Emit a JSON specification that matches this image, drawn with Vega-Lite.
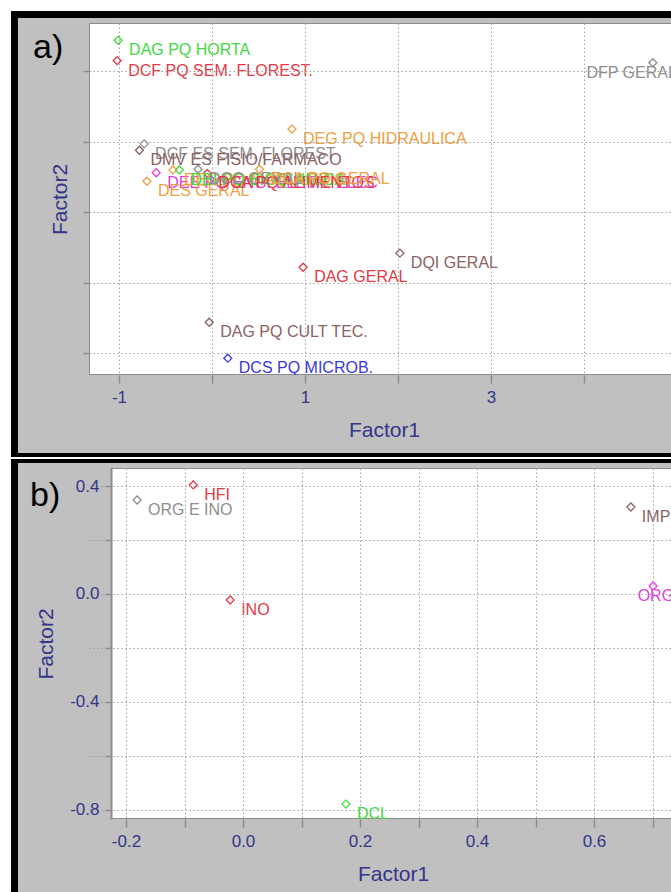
{
  "$schema": "https://vega.github.io/schema/vega-lite/v6.json",
  "padding": {"left": 10, "top": 10, "right": 0, "bottom": 0},
  "background": "white",
  "spacing": 0,
  "config": {
    "view": {"stroke": "#8c8c8c", "strokeWidth": 2, "fill": "white"},
    "font": "Liberation Sans",
    "axis": {
      "zindex": 1,
      "grid": true,
      "domain": false,
      "labelOverlap": false,
      "gridColor": "#a0a0a0",
      "gridDash": [1.5, 2.5],
      "gridWidth": 1,
      "tickColor": "#8c8c8c",
      "tickWidth": 1.5,
      "labelColor": "#35358a",
      "labelFontSize": 17,
      "labelFont": "Liberation Sans",
      "titleColor": "#35358a",
      "titleFontSize": 21,
      "titleFontWeight": "normal",
      "titleFont": "Liberation Sans"
    }
  },
  "datasets": {
    "a": [
      {"f1": -1.01, "f2": 1.94, "rotulo": "DAG PQ HORTA", "grupo": "verde"},
      {"f1": -1.02, "f2": 1.65, "rotulo": "DCF PQ SEM. FLOREST.", "grupo": "vermelho"},
      {"f1": 4.74, "f2": 1.62, "rotulo": "DFP GERAL", "grupo": "cinza"},
      {"f1": 0.86, "f2": 0.68, "rotulo": "DEG PQ HIDRAULICA", "grupo": "laranja"},
      {"f1": -0.73, "f2": 0.47, "rotulo": "DCF ES SEM. FLOREST", "grupo": "cinza"},
      {"f1": -0.78, "f2": 0.38, "rotulo": "DMV ES FISIO/FARMACO", "grupo": "marrom"},
      {"f1": -0.6, "f2": 0.06, "rotulo": "DEE PQ ENG. ELETR. ELEC", "grupo": "magenta"},
      {"f1": -0.7, "f2": -0.06, "rotulo": "DES GERAL", "grupo": "laranja"},
      {"f1": -0.42, "f2": 0.1, "rotulo": "DEG PQ MAQ. AGRIC.", "grupo": "laranja"},
      {"f1": -0.35, "f2": 0.1, "rotulo": "DBI PQ BIOQUIMICA", "grupo": "verde"},
      {"f1": -0.15, "f2": 0.11, "rotulo": "DCC GERAL", "grupo": "cinza"},
      {"f1": -0.05, "f2": 0.05, "rotulo": "DCA PQ ALIMENTOS", "grupo": "vermelho"},
      {"f1": 0.51, "f2": 0.11, "rotulo": "DCA PQ GERAL", "grupo": "laranja"},
      {"f1": 0.98, "f2": -1.28, "rotulo": "DAG GERAL", "grupo": "vermelho"},
      {"f1": 2.02, "f2": -1.08, "rotulo": "DQI GERAL", "grupo": "marrom"},
      {"f1": -0.03, "f2": -2.06, "rotulo": "DAG PQ CULT TEC.", "grupo": "marrom"},
      {"f1": 0.17, "f2": -2.57, "rotulo": "DCS PQ MICROB.", "grupo": "azul"}
    ],
    "b": [
      {"f1": -0.085, "f2": 0.404, "rotulo": "HFI", "grupo": "vermelho"},
      {"f1": -0.181, "f2": 0.348, "rotulo": "ORG E INO", "grupo": "cinza"},
      {"f1": -0.022, "f2": -0.023, "rotulo": "INO", "grupo": "vermelho"},
      {"f1": 0.663, "f2": 0.322, "rotulo": "IMP", "grupo": "marrom"},
      {"f1": 0.701, "f2": 0.029, "rotulo": "ORG", "grupo": "magenta"},
      {"f1": 0.176, "f2": -0.78, "rotulo": "DCL", "grupo": "verde"}
    ]
  },
  "vconcat": [
    {
      "width": 583,
      "height": 352,
      "layer": [
        {
          "data": {"name": "a"},
          "mark": {"type": "point", "shape": "diamond", "size": 64, "filled": false, "strokeWidth": 1.3, "opacity": 1},
          "encoding": {
            "x": {
              "field": "f1", "type": "quantitative",
              "scale": {"domain": [-1.3226, 4.9462], "nice": false, "zero": false},
              "axis": {
                "zindex": 1,
                "grid": true,
                "labelOverlap": false,
                "title": "Factor1",
                "titleX": 295,
                "values": [-1, 0, 1, 2, 3, 4],
                "labelExpr": "round(datum.value) % 2 === 0 ? '' : replace(format(datum.value, 'd'), '−', '-')",
                "tickSize": 8,
                "labelPadding": 6,
                "titlePadding": 14
              }
            },
            "y": {
              "field": "f2", "type": "quantitative",
              "scale": {"domain": [-2.8085, 2.1844], "nice": false, "zero": false},
              "axis": {
                "zindex": 1,
                "grid": true,
                "labelOverlap": false,
                "title": "Factor2",
                "values": [-2, -2.5, -1, -1.5, 0, -0.5, 1, 0.5, 2, 1.5],
                "labelExpr": "round(datum.value * 2) % 2 === 0 ? replace(format(datum.value, 'd'), '−', '-') : ''",
                "tickSize": 6,
                "labelPadding": 5,
                "titlePadding": 8
              }
            },
            "color": {
              "field": "grupo", "type": "nominal",
              "scale": {"domain": ["verde", "vermelho", "cinza", "laranja", "marrom", "azul", "magenta"], "range": ["#3fd93f", "#e33a46", "#8e8e8e", "#f0a040", "#8a6262", "#3838e0", "#e040e0"]},
              "legend": null
            }
          }
        },
        {
          "data": {"name": "a"},
          "transform": [{"filter": "datum.f1 < 4.5"}],
          "mark": {"type": "text", "align": "left", "baseline": "middle", "dx": 11, "dy": 10, "fontSize": 16, "clip": true},
          "encoding": {
            "x": {"field": "f1", "type": "quantitative", "scale": {"domain": [-1.3226, 4.9462], "nice": false, "zero": false}},
            "y": {"field": "f2", "type": "quantitative", "scale": {"domain": [-2.8085, 2.1844], "nice": false, "zero": false}},
            "text": {"field": "rotulo"},
            "color": {"field": "grupo", "type": "nominal", "legend": null}
          }
        },
        {
          "data": {"name": "a"},
          "transform": [{"filter": "datum.f1 >= 4.5"}],
          "mark": {"type": "text", "align": "right", "baseline": "middle", "dx": 24, "dy": 10, "fontSize": 16, "clip": true},
          "encoding": {
            "x": {"field": "f1", "type": "quantitative", "scale": {"domain": [-1.3226, 4.9462], "nice": false, "zero": false}},
            "y": {"field": "f2", "type": "quantitative", "scale": {"domain": [-2.8085, 2.1844], "nice": false, "zero": false}},
            "text": {"field": "rotulo"},
            "color": {"field": "grupo", "type": "nominal", "legend": null}
          }
        },
        {
          "data": {"values": [{}]},
          "mark": {"type": "rect", "color": "black"},
          "encoding": {
            "x": {"datum": -2.1613, "type": "quantitative", "scale": {"domain": [-1.3226, 4.9462], "nice": false, "zero": false}},
            "x2": {"datum": -2.086},
            "y": {"datum": 2.3546, "type": "quantitative", "scale": {"domain": [-2.8085, 2.1844], "nice": false, "zero": false}},
            "y2": {"datum": -3.9716}
          }
        },
        {
          "data": {"values": [{}]},
          "mark": {"type": "rect", "color": "black"},
          "encoding": {
            "x": {"datum": -2.1613, "type": "quantitative", "scale": {"domain": [-1.3226, 4.9462], "nice": false, "zero": false}},
            "x2": {"datum": 4.9462},
            "y": {"datum": 2.3546, "type": "quantitative", "scale": {"domain": [-2.8085, 2.1844], "nice": false, "zero": false}},
            "y2": {"datum": 2.2553}
          }
        },
        {
          "data": {"values": [{}]},
          "mark": {"type": "rect", "color": "black"},
          "encoding": {
            "x": {"datum": -2.1613, "type": "quantitative", "scale": {"domain": [-1.3226, 4.9462], "nice": false, "zero": false}},
            "x2": {"datum": 4.9462},
            "y": {"datum": -3.9149, "type": "quantitative", "scale": {"domain": [-2.8085, 2.1844], "nice": false, "zero": false}},
            "y2": {"datum": -3.9716}
          }
        },
        {
          "data": {"values": [{}]},
          "mark": {"type": "rect", "color": "#c0c0c0"},
          "encoding": {
            "x": {"datum": -2.086, "type": "quantitative", "scale": {"domain": [-1.3226, 4.9462], "nice": false, "zero": false}},
            "x2": {"datum": -1.3226},
            "y": {"datum": 2.2553, "type": "quantitative", "scale": {"domain": [-2.8085, 2.1844], "nice": false, "zero": false}},
            "y2": {"datum": -3.9149}
          }
        },
        {
          "data": {"values": [{}]},
          "mark": {"type": "rect", "color": "#c0c0c0"},
          "encoding": {
            "x": {"datum": -1.3226, "type": "quantitative", "scale": {"domain": [-1.3226, 4.9462], "nice": false, "zero": false}},
            "x2": {"datum": 4.9462},
            "y": {"datum": 2.2553, "type": "quantitative", "scale": {"domain": [-2.8085, 2.1844], "nice": false, "zero": false}},
            "y2": {"datum": 2.1844}
          }
        },
        {
          "data": {"values": [{}]},
          "mark": {"type": "rect", "color": "#c0c0c0"},
          "encoding": {
            "x": {"datum": -1.3226, "type": "quantitative", "scale": {"domain": [-1.3226, 4.9462], "nice": false, "zero": false}},
            "x2": {"datum": 4.9462},
            "y": {"datum": -2.8085, "type": "quantitative", "scale": {"domain": [-2.8085, 2.1844], "nice": false, "zero": false}},
            "y2": {"datum": -3.9149}
          }
        },
        {
          "data": {"values": [{}]},
          "mark": {"type": "text", "text": "a)", "align": "left", "baseline": "middle", "fontSize": 34, "color": "black", "font": "Liberation Sans"},
          "encoding": {
            "x": {"datum": -1.925, "type": "quantitative", "scale": {"domain": [-1.3226, 4.9462], "nice": false, "zero": false}},
            "y": {"datum": 1.83, "type": "quantitative", "scale": {"domain": [-2.8085, 2.1844], "nice": false, "zero": false}}
          }
        }
      ]
    },
    {
      "width": 583,
      "height": 351,
      "layer": [
        {
          "data": {"values": [{}]},
          "mark": {"type": "rect", "color": "black"},
          "encoding": {
            "x": {"datum": -0.39658, "type": "quantitative", "scale": {"domain": [-0.26325, 0.73333], "nice": false, "zero": false}},
            "x2": {"datum": -0.38462},
            "y": {"datum": 0.50015, "type": "quantitative", "scale": {"domain": [-0.8352, 0.4668], "nice": false, "zero": false}},
            "y2": {"datum": -1.11706}
          }
        },
        {
          "data": {"values": [{}]},
          "mark": {"type": "rect", "color": "black"},
          "encoding": {
            "x": {"datum": -0.39658, "type": "quantitative", "scale": {"domain": [-0.26325, 0.73333], "nice": false, "zero": false}},
            "x2": {"datum": 0.73333},
            "y": {"datum": 0.50015, "type": "quantitative", "scale": {"domain": [-0.8352, 0.4668], "nice": false, "zero": false}},
            "y2": {"datum": 0.48531}
          }
        },
        {
          "data": {"values": [{}]},
          "mark": {"type": "rect", "color": "#c0c0c0"},
          "encoding": {
            "x": {"datum": -0.38462, "type": "quantitative", "scale": {"domain": [-0.26325, 0.73333], "nice": false, "zero": false}},
            "x2": {"datum": -0.22564},
            "y": {"datum": 0.48531, "type": "quantitative", "scale": {"domain": [-0.8352, 0.4668], "nice": false, "zero": false}},
            "y2": {"datum": -1.11706}
          }
        },
        {
          "data": {"values": [{}]},
          "mark": {"type": "rect", "color": "#c0c0c0"},
          "encoding": {
            "x": {"datum": -0.22564, "type": "quantitative", "scale": {"domain": [-0.26325, 0.73333], "nice": false, "zero": false}},
            "x2": {"datum": 0.73333},
            "y": {"datum": 0.48531, "type": "quantitative", "scale": {"domain": [-0.8352, 0.4668], "nice": false, "zero": false}},
            "y2": {"datum": 0.4668}
          }
        },
        {
          "data": {"values": [{}]},
          "mark": {"type": "rect", "color": "#c0c0c0"},
          "encoding": {
            "x": {"datum": -0.22564, "type": "quantitative", "scale": {"domain": [-0.26325, 0.73333], "nice": false, "zero": false}},
            "x2": {"datum": 0.73333},
            "y": {"datum": -0.8352, "type": "quantitative", "scale": {"domain": [-0.8352, 0.4668], "nice": false, "zero": false}},
            "y2": {"datum": -1.11706}
          }
        },
        {
          "data": {"values": [{}]},
          "mark": {"type": "text", "text": "b)", "align": "left", "baseline": "middle", "fontSize": 34, "color": "black", "font": "Liberation Sans"},
          "encoding": {
            "x": {"datum": -0.3641, "type": "quantitative", "scale": {"domain": [-0.26325, 0.73333], "nice": false, "zero": false}},
            "y": {"datum": 0.3629, "type": "quantitative", "scale": {"domain": [-0.8352, 0.4668], "nice": false, "zero": false}}
          }
        },
        {
          "data": {"name": "b"},
          "mark": {"type": "point", "shape": "diamond", "size": 64, "filled": false, "strokeWidth": 1.3, "opacity": 1},
          "encoding": {
            "x": {
              "field": "f1", "type": "quantitative",
              "scale": {"domain": [-0.26325, 0.73333], "nice": false, "zero": false},
              "axis": {
                "zindex": 1,
                "labelOverlap": false,
                "title": "Factor1",
                "titleX": 304,
                "values": [-0.2, -0.1, 0, 0.1, 0.2, 0.3, 0.4, 0.5, 0.6, 0.7],
                "labelExpr": "round(datum.value * 10) % 2 === 0 ? replace(format(datum.value, '.1f'), '−', '-') : ''",
                "tickSize": 8,
                "labelPadding": 6,
                "titlePadding": 14
              }
            },
            "y": {
              "field": "f2", "type": "quantitative",
              "scale": {"domain": [-0.8352, 0.4668], "nice": false, "zero": false},
              "axis": {
                "zindex": 1,
                "labelOverlap": false,
                "offset": -22,
                "domain": true,
                "domainColor": "#8c8c8c",
                "domainWidth": 2,
                "title": "Factor2",
                "values": [-0.8, -0.6, -0.4, -0.2, 0, 0.2, 0.4],
                "labelExpr": "round(datum.value * 10) % 4 === 0 ? replace(format(datum.value, '.1f'), '−', '-') : ''",
                "tickSize": 6,
                "labelPadding": 6,
                "titlePadding": 13
              }
            },
            "color": {
              "field": "grupo", "type": "nominal",
              "scale": {"domain": ["verde", "vermelho", "cinza", "laranja", "marrom", "azul", "magenta"], "range": ["#3fd93f", "#e33a46", "#8e8e8e", "#f0a040", "#8a6262", "#3838e0", "#e040e0"]},
              "legend": null
            }
          }
        },
        {
          "data": {"name": "b"},
          "transform": [{"filter": "datum.f1 < 0.68"}],
          "mark": {"type": "text", "align": "left", "baseline": "middle", "dx": 11, "dy": 10, "fontSize": 16, "clip": true},
          "encoding": {
            "x": {"field": "f1", "type": "quantitative", "scale": {"domain": [-0.26325, 0.73333], "nice": false, "zero": false}},
            "y": {"field": "f2", "type": "quantitative", "scale": {"domain": [-0.8352, 0.4668], "nice": false, "zero": false}},
            "text": {"field": "rotulo"},
            "color": {"field": "grupo", "type": "nominal", "legend": null}
          }
        },
        {
          "data": {"name": "b"},
          "transform": [{"filter": "datum.f1 >= 0.68"}],
          "mark": {"type": "text", "align": "right", "baseline": "middle", "dx": 21, "dy": 10, "fontSize": 16, "clip": true},
          "encoding": {
            "x": {"field": "f1", "type": "quantitative", "scale": {"domain": [-0.26325, 0.73333], "nice": false, "zero": false}},
            "y": {"field": "f2", "type": "quantitative", "scale": {"domain": [-0.8352, 0.4668], "nice": false, "zero": false}},
            "text": {"field": "rotulo"},
            "color": {"field": "grupo", "type": "nominal", "legend": null}
          }
        }
      ]
    }
  ]
}
